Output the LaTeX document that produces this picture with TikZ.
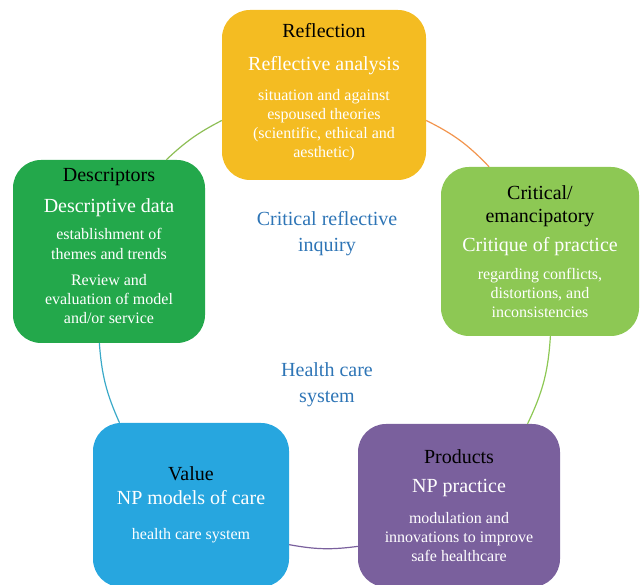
\documentclass[tikz,border=0pt]{standalone}
\usepackage{fontspec}
\setmainfont{Liberation Serif}
\usetikzlibrary{positioning}
\definecolor{rfgold}{HTML}{F4BC22}
\definecolor{rfgreen}{HTML}{23A84B}
\definecolor{rflime}{HTML}{8DC854}
\definecolor{rfsky}{HTML}{27A6DF}
\definecolor{rfplum}{HTML}{7A609D}
\definecolor{rfblue}{HTML}{2E75B6}
\definecolor{lkgreen}{HTML}{8DBE55}
\definecolor{lkorange}{HTML}{F2954E}
\definecolor{lkteal}{HTML}{3AA9C8}
\newcommand{\headline}[1]{{\fontsize{20}{19}\selectfont\color{black}#1}}
\newcommand{\subline}[1]{{\fontsize{20}{19}\selectfont #1}}

\begin{document}
\begin{tikzpicture}[
  x=1pt, y=1pt,
  phase/.style={rectangle, rounded corners=28pt, text=white, align=center, inner sep=0pt, font=\fontsize{16}{19}\selectfont},
  hub/.style={text=rfblue, align=center, font=\fontsize{20}{26}\selectfont},
  link/.style={line width=1.2pt},
]
\useasboundingbox (0,0) rectangle (641,585);

\node[phase, fill=rfgold, minimum width=204pt, minimum height=170pt, text depth=9pt] (refl) at (324,490)
  {\headline{Reflection}\\[14pt]\subline{Reflective analysis}\\[11.5pt]situation and against\\espoused theories\\(scientific, ethical and\\aesthetic)};
\node[phase, fill=rfgreen, minimum width=192pt, minimum height=183pt, text depth=11pt] (desc) at (109,333.5)
  {\headline{Descriptors}\\[12pt]\subline{Descriptive data}\\[8.5pt]establishment of\\[1pt]themes and trends\\[7pt]Review and\\evaluation of model\\and/or service};
\node[phase, fill=rflime, minimum width=198pt, minimum height=169pt] (crit) at (540,333.5)
  {\headline{Critical/}\\[4pt]\headline{emancipatory}\\[10pt]\subline{Critique of practice}\\[9.5pt]regarding conflicts,\\distortions, and\\inconsistencies};
\node[phase, fill=rfsky, minimum width=196pt, minimum height=164pt] (val) at (191,80)
  {\headline{Value}\\[5pt]\subline{NP models of care}\\[16.5pt]health care system};
\node[phase, fill=rfplum, minimum width=202pt, minimum height=163pt] (prod) at (459,79.5)
  {\headline{Products}\\[10pt]\subline{NP practice}\\[11.5pt]modulation and\\innovations to improve\\safe healthcare};

\node[hub] (inquiry) at (327,351) {Critical reflective\\inquiry};
\node[hub, below=99pt of inquiry] (system) {Health care\\system};

\draw[link, lkgreen] (desc.58) to[bend left=8] (refl.194);
\draw[link, lkorange] (refl.-14) to[bend left=10] (crit.121);
\draw[link, rflime] (crit.-83) to[bend left=11] (prod.50);
\draw[link, rfplum] (prod.202) to[bend left=9] (val.-22);
\draw[link, lkteal] (val.131) to[bend left=10] (desc.264);
\end{tikzpicture}
\end{document}
